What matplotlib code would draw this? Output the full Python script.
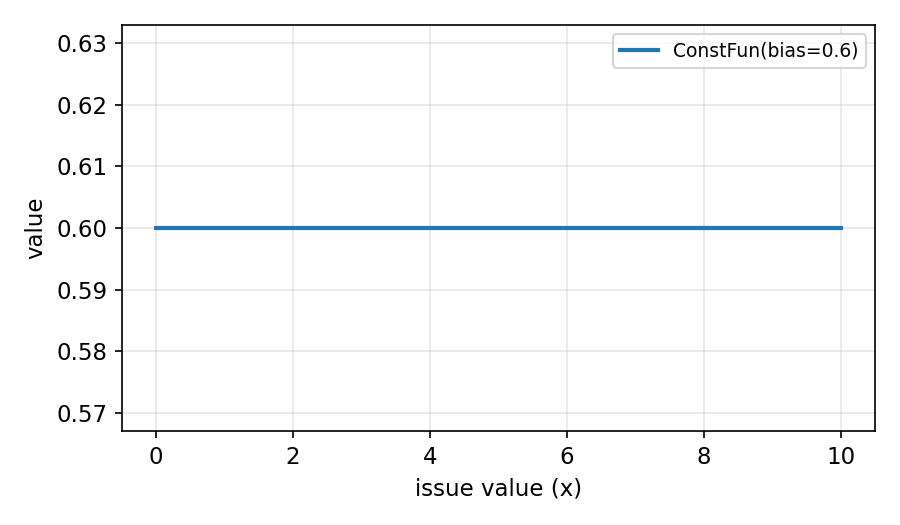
import matplotlib
matplotlib.use('Agg')
import matplotlib.pyplot as plt

# issue values and the constant function output
issue_x = [0, 10]
values = [0.6, 0.6]
series_label = "ConstFun(bias=0.6)"

plt.rcParams['font.size'] = 11

fig, ax = plt.subplots(figsize=(6, 3.5), dpi=150)
ax.plot(issue_x, values, linewidth=2, color='#1f77b4', label=series_label)
ax.set_xlabel("issue value (x)")
ax.set_ylabel("value")
ax.grid(True, alpha=0.3)
ax.legend(loc='upper right', fontsize=9)

fig.tight_layout()
fig.savefig("out.png", dpi=150)
